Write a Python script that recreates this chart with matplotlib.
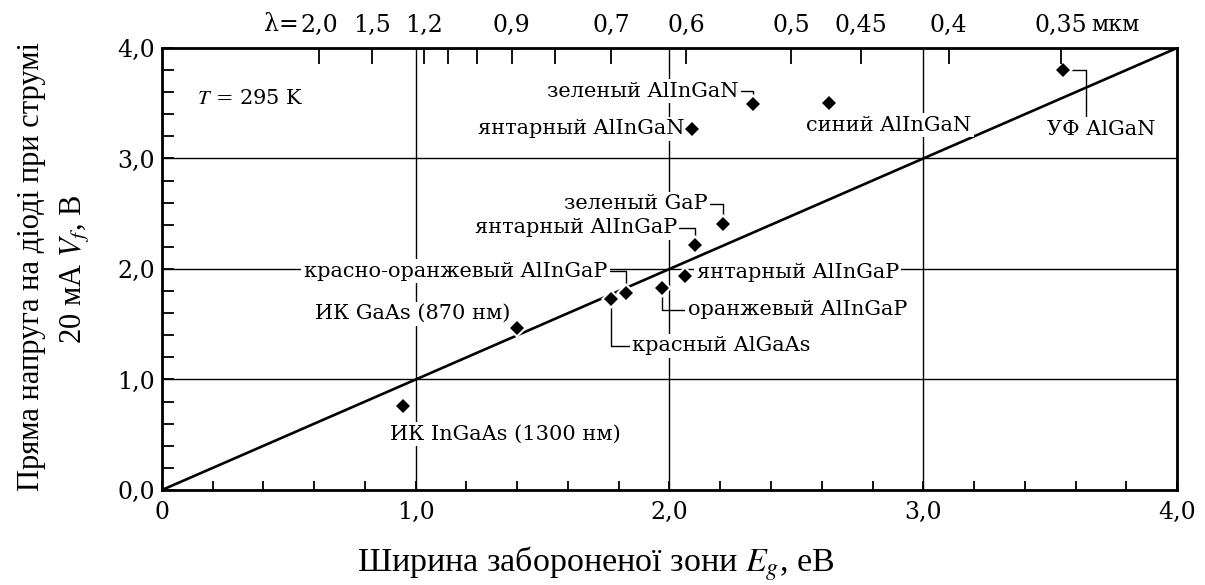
import numpy as np
import matplotlib
matplotlib.use('Agg')
import matplotlib.pyplot as plt

plt.rcParams['font.family'] = ['DejaVu Serif']
plt.rcParams['mathtext.fontset'] = 'stix'

# diode data: band gap (eV) and forward voltage at 20 mA (V)
names = ['ИК InGaAs (1300 нм)', 'ИК GaAs (870 нм)', 'красный AlGaAs',
         'красно-оранжевый AlInGaP', 'оранжевый AlInGaP', 'янтарный AlInGaP',
         'янтарный AlInGaP', 'зеленый GaP', 'янтарный AlInGaN',
         'зеленый AlInGaN', 'синий AlInGaN', 'УФ AlGaN']
Eg = [0.95, 1.40, 1.77, 1.83, 1.97, 2.06, 2.10, 2.21, 2.09, 2.33, 2.63, 3.55]
Vf = [0.76, 1.47, 1.73, 1.78, 1.83, 1.94, 2.22, 2.41, 3.27, 3.49, 3.50, 3.80]

# wavelength scale on top (мкм)
lam_ticks = [2.0, 1.5, 1.2, 1.1, 1.0, 0.9, 0.8, 0.7, 0.6, 0.5, 0.45, 0.4, 0.35]
lam_labels = ['2,0', '1,5', '1,2', '', '', '0,9', '', '0,7', '0,6', '0,5', '0,45', '0,4', '0,35']

x_ticks = [0, 1, 2, 3, 4]
x_labels = ['0', '1,0', '2,0', '3,0', '4,0']
y_labels = ['0,0', '1,0', '2,0', '3,0', '4,0']

# label layout: offset in pixels from the point, alignment, leader (relpos or None)
layout = [
    ((102, -28), 'center', None),
    ((-7, 14), 'right', None),
    ((21, -47), 'left', (0, 0.5)),
    ((-19, 22), 'right', (1, 0.5)),
    ((26, -22), 'left', (0, 0.5)),
    ((12, 3), 'left', None),
    ((-18, 17), 'right', (1, 0.5)),
    ((-15, 20), 'right', (1, 0.5)),
    ((-8, 0), 'right', None),
    ((-15, 13), 'right', (1, 0.5)),
    ((-23, -22), 'left', None),
    ((38, -59), 'center', (0.36, 1)),
]

fig = plt.figure(figsize=(12.05, 5.85), dpi=100)
ax = fig.add_axes([0.1344, 0.1624, 0.8424, 0.7556])
ax.set_xlim(0, 4)
ax.set_ylim(0, 4)

ax.set_xticks(x_ticks)
ax.set_xticklabels(x_labels)
ax.set_yticks(x_ticks)
ax.set_yticklabels(y_labels)
ax.set_xticks(np.arange(0, 4.01, 0.2), minor=True)
ax.set_yticks(np.arange(0, 4.01, 0.2), minor=True)
ax.grid(True, which='major', color='black', lw=1.0)
ax.tick_params(axis='x', which='both', direction='in', length=6.5, width=1.3,
               labelsize=17, pad=8)
ax.tick_params(axis='y', which='both', direction='in', length=8.5, width=1.3,
               labelsize=17, pad=5)
for sp in ax.spines.values():
    sp.set_linewidth(2.0)

ax.plot([0, 4], [0, 4], color='black', lw=1.9, zorder=3)
# white halo under the diamonds breaks the lines around them
ax.plot(Eg, Vf, 'D', color='white', ms=10.5, mew=0, zorder=4.5)
ax.plot(Eg, Vf, 'D', color='black', ms=7, mew=0, zorder=5)

for name, e, v, (off, ha, rel) in zip(names, Eg, Vf, layout):
    kw = {}
    if rel is not None:
        kw['arrowprops'] = dict(arrowstyle='-', color='black', lw=1.0,
                                connectionstyle='angle,angleA=0,angleB=90,rad=0'
                                if rel[1] != 1 else
                                'angle,angleA=90,angleB=0,rad=0',
                                relpos=rel, shrinkA=0, shrinkB=0)
    ax.annotate(name, xy=(e, v), xytext=off, textcoords='offset pixels',
                ha=ha, va='center', fontsize=15, zorder=4,
                bbox=dict(boxstyle='square,pad=0.12', fc='white', ec='none'), **kw)

ax.text(0.14, 3.54, '$T$ = 295 K', fontsize=15, va='center', ha='left',
        bbox=dict(boxstyle='square,pad=0.12', fc='white', ec='none'))

ax2 = ax.twiny()
ax2.set_xlim(0, 4)
ax2.set_xticks([1.24 / l for l in lam_ticks])
ax2.set_xticklabels(lam_labels)
ax2.tick_params(axis='x', direction='in', length=11.5, width=1.3, labelsize=17, pad=8)
ax2.annotate('λ=', xy=(1.24 / lam_ticks[0], 1), xycoords=('data', 'axes fraction'),
             xytext=(-15, 8.5), textcoords='offset points', ha='right', va='bottom',
             fontsize=17)
ax2.annotate('мкм', xy=(1.24 / lam_ticks[-1], 1), xycoords=('data', 'axes fraction'),
             xytext=(22, 8.5), textcoords='offset points', ha='left', va='bottom',
             fontsize=16)

fig.text(0.494, 0.036, 'Ширина забороненої зони $E_g$, еВ', ha='center', va='center',
         family='Liberation Serif', fontsize=24.5)
fig.text(0.026, 0.545, 'Пряма напруга на діоді при струмі', rotation=90,
         ha='center', va='center', family='Liberation Serif', fontsize=22)
fig.text(0.062, 0.54, '20 мА $V_f$, В', rotation=90, ha='center', va='center',
         family='Liberation Serif', fontsize=22)

fig.savefig('out.png', dpi=100)
